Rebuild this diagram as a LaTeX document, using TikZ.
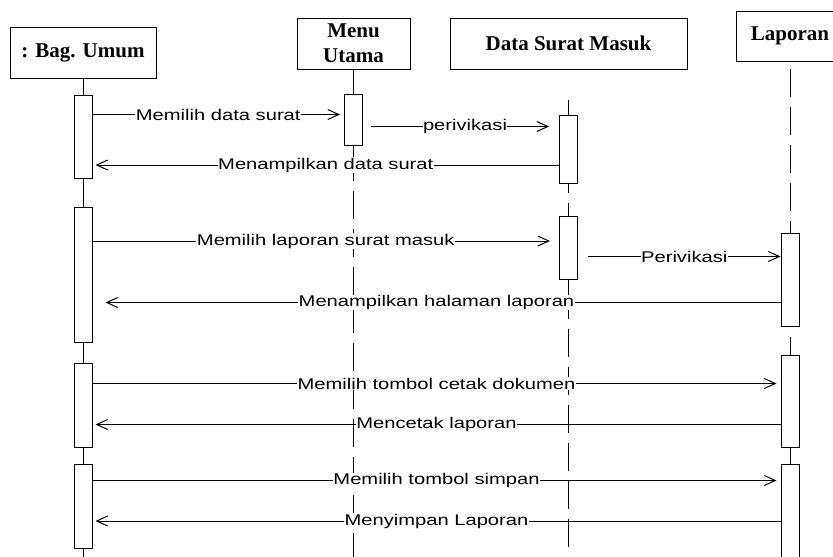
\documentclass[tikz,border=0pt]{standalone}
\usepackage{fontspec}
\usetikzlibrary{positioning,arrows.meta}
\newfontfamily\headfont{Liberation Serif}
\newfontfamily\msgfont[FakeStretch=1.3]{Liberation Sans}

\begin{document}
\begin{tikzpicture}[x=1pt,y=-1pt,on grid,line width=1pt,
    obj/.style={draw,minimum height=51pt,inner sep=0pt,align=center,
      font=\headfont\bfseries\fontsize{21}{25}\selectfont},
    act/.style={draw,fill=white,minimum width=18pt,inner sep=0pt},
    life/.style={dash pattern=on 28pt off 10pt},
    msg/.style={-{Straight Barb[length=11pt,width=10pt]}},
    lbl/.style={fill=white,inner sep=0.5pt,font=\msgfont\fontsize{15.5}{18}\selectfont}]
    \useasboundingbox (0,0) rectangle (833,557);
    \coordinate (end) at (0,557);

    % objects
    \node[obj,minimum width=146pt] (umum) at (83,52.5)                       {: Bag. Umum};
    \node[obj,minimum width=113pt] (menu) [above right=9pt and 270.5pt of umum] {Menu\\Utama};
    \node[obj,minimum width=237pt] (data) [right=215pt of menu]               {Data Surat Masuk};
    \node[obj,minimum width=108pt,minimum height=50pt] (lap) [above right=7.5pt and 221.5pt of data] {Laporan};

    % activations
    \node[act,minimum height=83pt]  (u1) [below=84pt of umum]    {};
    \node[act,minimum height=135pt] (u2) [below=138pt of u1]     {};
    \node[act,minimum height=84pt]  (u3) [below=130.5pt of u2]   {};
    \node[act,minimum height=84pt]  (u4) [below=101pt of u3]     {};
    \node[act,minimum height=51pt]  (m1) [below=76pt of menu]    {};
    \node[act,minimum height=68pt]  (d1) [below=105.5pt of data] {};
    \node[act,minimum height=63pt]  (d2) [below=98.5pt of d1]    {};
    \node[act,minimum height=93pt]  (l1) [below=243.5pt of lap]  {};
    \node[act,minimum height=92pt]  (l2) [below=121.5pt of l1]   {};
    \node[act,minimum height=110pt] (l3) [below=118pt of l2]     {};

    % lifelines
    \draw (umum.south) -- (u1.north) (u1.south) -- (u2.north)
          (u2.south) -- (u3.north) (u3.south) -- (u4.north)
          (u4.south) -- (u4 |- end);
    \draw (menu.south) -- (m1.north) (m1.south) -- ++(0,7);
    \draw[life] ([yshift=-7pt]m1.south) -- (m1 |- end);
    \draw ([yshift=15pt]d1.north) -- (d1.north) (d1.south) -- ++(0,9)
          ([yshift=13pt]d2.north) -- (d2.north) (d2.south) -- ++(0,11);
    \draw[life] ([yshift=-11pt]d2.south) -- (d2 |- end);
    \draw[life] ([yshift=-7pt]lap.south) -- (l1.north);
    \draw ([yshift=18pt]l2.north) -- (l2.north) (l2.south) -- (l3.north);

    % messages
    \path[msg] ([yshift=-20pt]u1.north east) edge[shorten >=4pt] node[lbl] {Memilih data surat} ([yshift=-21pt]m1.north west)
               ([xshift=8pt,yshift=-33pt]m1.north east) edge[shorten >=10pt] node[lbl] {perivikasi} ([yshift=-12pt]d1.north west)
               ([yshift=-50.5pt]d1.north west) edge[shorten >=3pt] node[lbl] {Menampilkan data surat} ([yshift=-70.5pt]u1.north east)
               ([yshift=-34.5pt]u2.north east) edge[shorten >=9pt] node[lbl] {Memilih laporan surat masuk} ([yshift=-25.5pt]d2.north west)
               ([xshift=10pt,yshift=-41pt]d2.north east) edge node[lbl] {Perivikasi} ([yshift=-24pt]l1.north west)
               ([yshift=-70pt]l1.north west) edge[shorten >=13pt] node[lbl] {Menampilkan halaman laporan} ([yshift=-96pt]u2.north east)
               ([yshift=-21pt]u3.north east) edge[shorten >=4pt] node[lbl] {Memilih tombol cetak dokumen} ([yshift=-29pt]l2.north west)
               ([yshift=-70pt]l2.north west) edge[shorten >=3pt] node[lbl] {Mencetak laporan} ([yshift=-62pt]u3.north east)
               ([yshift=-17pt]u4.north east) edge[shorten >=4pt] node[lbl] {Memilih tombol simpan} ([yshift=-17pt]l3.north west)
               ([yshift=-57.5pt]l3.north west) edge[shorten >=3pt] node[lbl] {Menyimpan Laporan} ([yshift=-57.5pt]u4.north east);
\end{tikzpicture}
\end{document}
